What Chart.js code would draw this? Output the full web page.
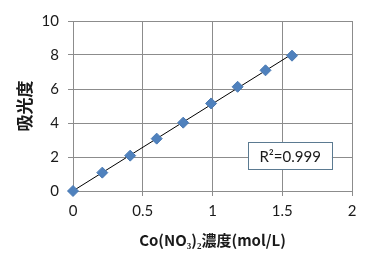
<!DOCTYPE html>
<html><head><meta charset="utf-8">
<script src="https://cdn.jsdelivr.net/npm/chart.js@4/dist/chart.umd.min.js"></script>
<style>html,body{margin:0;padding:0;background:#fff}#wrap{width:375px;height:260px;position:relative}</style>
</head><body><div id="wrap"><canvas id="c"></canvas></div>
<script>
const concentration = [0, 0.21, 0.41, 0.60, 0.79, 0.99, 1.18, 1.38, 1.57];
const absorbance = [0, 1.08, 2.08, 3.08, 4.02, 5.15, 6.13, 7.10, 7.96];
const xTicks = [0, 0.5, 1, 1.5, 2];
const yTicks = [0, 2, 4, 6, 8, 10];
const xTitle = 'Co(NO\u2083)\u2082濃度(mol/L)';
const yTitle = '吸光度';
const r2Label = 'R\u00B2=0.999';

// least-squares trendline from the data
const n = concentration.length;
const mx = concentration.reduce((a,b)=>a+b,0)/n;
const my = absorbance.reduce((a,b)=>a+b,0)/n;
let sxy=0, sxx=0;
for (let i=0;i<n;i++){ sxy += (concentration[i]-mx)*(absorbance[i]-my); sxx += (concentration[i]-mx)**2; }
const slope = sxy/sxx, intercept = my - slope*mx;
const xMin = Math.min(...concentration), xMax = Math.max(...concentration);
const trend = [{x:xMin, y:intercept+slope*xMin},{x:xMax, y:intercept+slope*xMax}];

const r2Box = {
  id:'r2Box',
  afterDatasetsDraw(chart){
    const {ctx, scales:{x,y}} = chart;
    const l = x.getPixelForValue(1.257), r = x.getPixelForValue(1.856);
    const t = y.getPixelForValue(2.87), b = y.getPixelForValue(1.28);
    ctx.save();
    ctx.fillStyle='#fff';
    ctx.fillRect(l,t,r-l,b-t);
    ctx.strokeStyle='#5b7a91';
    ctx.lineWidth=1;
    ctx.strokeRect(Math.round(l)+0.5,Math.round(t)+0.5,Math.round(r-l),Math.round(b-t));
    ctx.fillStyle='#1a1a1a';
    ctx.font='15px Lato';
    ctx.textAlign='center'; ctx.textBaseline='middle';
    ctx.fillText(r2Label,(l+r)/2,(t+b)/2+1);
    ctx.restore();
  }
};

new Chart(document.getElementById('c'),{
  type:'scatter',
  data:{datasets:[
    {data:concentration.map((v,i)=>({x:v,y:absorbance[i]})),
     pointStyle:'rectRot',pointRadius:5.5,pointHoverRadius:5.5,clip:false,
     backgroundColor:'#4f81bd',borderColor:'#4a7ab4',borderWidth:1},
    {type:'line',data:trend,showLine:true,borderColor:'#000',borderWidth:1,pointRadius:0,fill:false}
  ]},
  options:{
    responsive:true,maintainAspectRatio:false,animation:false,
    layout:{padding:{left:0,right:23,top:21,bottom:0}},
    plugins:{legend:{display:false},tooltip:{enabled:false}},
    scales:{
      x:{type:'linear',min:0,max:2,
        afterBuildTicks(s){s.ticks=xTicks.map(v=>({value:v}));},
        afterFit(s){s.height=69;},
        grid:{color:'#8c8c8c',tickLength:5,tickColor:'#8c8c8c'},
        border:{color:'#8c8c8c'},
        ticks:{color:'#1a1a1a',font:{family:'Lato',size:15},padding:6,maxRotation:0,callback:v=>String(v)},
        title:{display:true,text:xTitle,color:'#1a1a1a',font:{family:'Noto Sans CJK JP',size:15,weight:'bold'},padding:{top:0,bottom:11}}
      },
      y:{type:'linear',min:0,max:10,
        afterBuildTicks(s){s.ticks=yTicks.map(v=>({value:v}));},
        afterFit(s){s.width=73;},
        grid:{color:'#8c8c8c',tickLength:5,tickColor:'#8c8c8c'},
        border:{color:'#8c8c8c'},
        ticks:{color:'#1a1a1a',font:{family:'Lato',size:15},padding:9,callback:v=>String(v)},
        title:{display:true,text:yTitle,color:'#1a1a1a',font:{family:'Noto Sans CJK JP',size:17,weight:'bold'},padding:{top:14,bottom:0}}
      }
    }
  },
  plugins:[r2Box]
});
</script></body></html>
